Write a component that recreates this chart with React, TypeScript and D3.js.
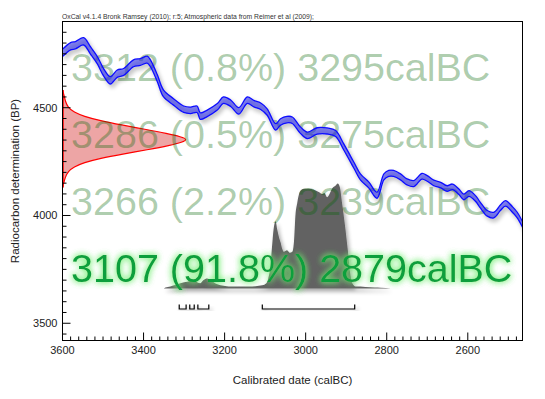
import React from "react";
import * as d3 from "d3";

// ---- data ----
const HEADER = "OxCal v4.1.4 Bronk Ramsey (2010); r:5; Atmospheric data from Reimer et al (2009);";
const X_TITLE = "Calibrated date (calBC)";
const Y_TITLE = "Radiocarbon determination (BP)";
const X_DOMAIN = [3600, 2465];
const Y_DOMAIN = [3420, 4900];
const X_TICK_LABELS = [3600, 3400, 3200, 3000, 2800, 2600];
const Y_TICK_LABELS = [3500, 4000, 4500];

// calibration curve: [calBC, BP, 1-sigma]
const CURVE: [number, number, number][] = [
  [3600, 4754, 17], [3580, 4785, 17], [3568, 4790, 17], [3548, 4808, 17], [3531, 4766, 17],
  [3514, 4720, 17], [3499, 4666, 17], [3482, 4627, 17], [3465, 4658, 17], [3449, 4666, 16],
  [3425, 4706, 16], [3408, 4712, 16], [3391, 4723, 16], [3383, 4706, 16], [3366, 4637, 16],
  [3351, 4567, 16], [3326, 4527, 15], [3301, 4493, 15], [3284, 4488, 15], [3268, 4493, 15],
  [3260, 4461, 15], [3243, 4474, 15], [3218, 4504, 15], [3203, 4535, 15], [3185, 4521, 15],
  [3165, 4485, 15], [3144, 4535, 15], [3128, 4519, 15], [3111, 4507, 15], [3095, 4480, 15],
  [3074, 4411, 15], [3062, 4434, 15], [3046, 4445, 15], [3033, 4442, 15], [3013, 4396, 15],
  [2996, 4372, 15], [2972, 4392, 15], [2947, 4392, 14], [2926, 4380, 14], [2906, 4318, 14],
  [2881, 4233, 14], [2865, 4179, 14], [2844, 4141, 14], [2824, 4094, 14], [2807, 4179, 14],
  [2795, 4195, 14], [2783, 4195, 14], [2766, 4179, 14], [2750, 4156, 14], [2733, 4148, 14],
  [2713, 4182, 13], [2700, 4172, 13], [2684, 4151, 13], [2667, 4141, 13], [2651, 4125, 13],
  [2638, 4133, 13], [2622, 4110, 13], [2610, 4086, 13], [2597, 4102, 13], [2581, 4079, 13],
  [2569, 4048, 13], [2552, 4010, 13], [2536, 4002, 13], [2519, 4037, 13], [2507, 4056, 13],
  [2490, 4028, 13], [2478, 4002, 13], [2460, 3940, 13],
];

// radiocarbon date likelihood: [BP, relative density]
const RDATE: [number, number][] = [
  [4582, 0], [4560, 0.012], [4530, 0.022], [4500, 0.045], [4480, 0.09], [4460, 0.17],
  [4440, 0.3], [4420, 0.47], [4400, 0.66], [4380, 0.84], [4365, 0.95], [4353, 1.0],
  [4340, 0.96], [4325, 0.86], [4305, 0.68], [4285, 0.48], [4265, 0.3], [4245, 0.17],
  [4225, 0.09], [4205, 0.045], [4175, 0.02], [4150, 0.01], [4130, 0],
];

// calibrated probability: [calBC, relative probability]
const POSTERIOR: [number, number][] = [
  [3350, 0], [3346, 0.01], [3334, 0.02], [3320, 0.035], [3309, 0.05], [3300, 0.06],
  [3292, 0.065], [3284, 0.075], [3276, 0.08], [3268, 0.06], [3260, 0.05], [3252, 0.08],
  [3243, 0.095], [3235, 0.08], [3227, 0.06], [3218, 0.04], [3210, 0.03], [3195, 0.022],
  [3185, 0.02], [3170, 0.02], [3161, 0.02], [3140, 0.02], [3124, 0.022], [3107, 0.03],
  [3097, 0.05], [3092, 0.1], [3087, 0.21], [3083, 0.4], [3079, 0.57], [3074, 0.64],
  [3070, 0.56], [3066, 0.49], [3062, 0.44], [3058, 0.38], [3054, 0.35], [3046, 0.365],
  [3039, 0.34], [3033, 0.35], [3029, 0.44], [3025, 0.71], [3021, 0.81], [3017, 0.89],
  [3013, 0.93], [3005, 0.95], [2992, 0.95], [2980, 0.94], [2968, 0.92], [2959, 0.9],
  [2954, 0.91], [2947, 0.87], [2940, 0.91], [2935, 0.95], [2926, 0.98], [2921, 1.0],
  [2916, 0.97], [2910, 0.81], [2902, 0.57], [2896, 0.365], [2891, 0.17], [2885, 0.05],
  [2877, 0.02], [2865, 0.018], [2852, 0.015], [2830, 0.01], [2815, 0.008], [2790, 0],
];

// 95.4% ranges: [from, to, percent]
const RANGES: [number, number, number][] = [
  [3312, 3295, 0.8],
  [3286, 3275, 0.5],
  [3266, 3239, 2.2],
  [3107, 2879, 91.8],
];

const FONT = "'Liberation Sans', Arial, Helvetica, sans-serif";

export default function App() {
  const left = 62.5, right = 522.5, top = 21.5, bottom = 340.5;
  const x = d3.scaleLinear().domain(X_DOMAIN).range([left, right]);
  const y = d3.scaleLinear().domain(Y_DOMAIN).range([bottom, top]);

  const band = d3.area<[number, number, number]>()
    .x(d => x(d[0])).y0(d => y(d[1] - d[2])).y1(d => y(d[1] + d[2]))
    .curve(d3.curveCatmullRom);
  const upper = d3.line<[number, number, number]>()
    .x(d => x(d[0])).y(d => y(d[1] + d[2])).curve(d3.curveCatmullRom);
  const lower = d3.line<[number, number, number]>()
    .x(d => x(d[0])).y(d => y(d[1] - d[2])).curve(d3.curveCatmullRom);

  const rAmp = 125;
  const rScale = d3.scaleLinear().domain([0, 1]).range([left, left + rAmp]);
  const rArea = d3.area<[number, number]>()
    .y(d => y(d[0])).x0(left).x1(d => rScale(d[1])).curve(d3.curveBasis);
  const rLine = d3.line<[number, number]>()
    .y(d => y(d[0])).x(d => rScale(d[1])).curve(d3.curveBasis);

  const postBase = 288.5;
  const pScale = d3.scaleLinear().domain([0, 1]).range([postBase, postBase - 105]);
  const pArea = d3.area<[number, number]>()
    .x(d => x(d[0])).y0(postBase).y1(d => pScale(d[1])).curve(d3.curveMonotoneX);

  const xTicks = d3.range(X_DOMAIN[0], X_DOMAIN[1], -20);
  const yTicks = d3.range(3450, Y_DOMAIN[1] + 1, 50);

  const bracketY = 309;

  const fmt = (r: [number, number, number]) => `${r[0]} (${r[2]}%) ${r[1]}calBC`;
  const textBaselines = [81, 148, 215, 282];

  return (
    <svg width={545} height={399} style={{ position: "absolute", left: 0, top: 0, background: "#fff" }}
      fontFamily={FONT}>
      <defs>
        <clipPath id="plot">
          <rect x={left} y={top} width={right - left} height={bottom - top} />
        </clipPath>
        <filter id="shadow" x="-10%" y="-20%" width="130%" height="150%">
          <feGaussianBlur in="SourceAlpha" stdDeviation="2" result="b" />
          <feOffset in="b" dx="2" dy="3" result="o" />
          <feComponentTransfer in="o" result="s">
            <feFuncA type="linear" slope="0.35" />
          </feComponentTransfer>
          <feMerge>
            <feMergeNode in="s" />
            <feMergeNode in="SourceGraphic" />
          </feMerge>
        </filter>
        <filter id="glow" x="-5%" y="-40%" width="110%" height="180%">
          <feGaussianBlur in="SourceAlpha" stdDeviation="3" result="b" />
          <feFlood floodColor="#70ee70" floodOpacity="0.85" />
          <feComposite in2="b" operator="in" result="g" />
          <feMerge>
            <feMergeNode in="g" />
            <feMergeNode in="g" />
            <feMergeNode in="SourceGraphic" />
          </feMerge>
        </filter>
      </defs>

      <text x={62} y={19} fontSize={6.7} fill="#333" textLength={252} lengthAdjust="spacingAndGlyphs">{HEADER}</text>

      <path d={rArea(RDATE) || ""} fill="#dc4c4c" fillOpacity={0.5} />
      <path d={rLine(RDATE) || ""} fill="none" stroke="#ff0000" strokeWidth={1.2} />
      <line x1={left + 0.5} x2={left + 0.5} y1={y(RDATE[0][0])} y2={y(RDATE[RDATE.length - 1][0])} stroke="#ff0000" strokeWidth={1.5} />

      <g filter="url(#shadow)">
        <path d={pArea(POSTERIOR) || ""} fill="#626262" />
      </g>

      <g filter="url(#shadow)">
        {RANGES.map((r, i) => (
          <path key={i}
            d={`M${x(r[0])},${bracketY - 4.5}V${bracketY}H${x(r[1])}V${bracketY - 4.5}`}
            fill="none" stroke="#000" strokeWidth={1.2} />
        ))}
      </g>

      {RANGES.slice(0, 3).map((r, i) => (
        <text key={i} x={71} y={textBaselines[i]} fontSize={39.5} fill="#006400" fillOpacity={0.33}>{fmt(r)}</text>
      ))}

      <g clipPath="url(#plot)">
        <g filter="url(#shadow)">
          <path d={band(CURVE) || ""} fill="#2020e0" fillOpacity={0.55} />
          <path d={upper(CURVE) || ""} fill="none" stroke="#1010ff" strokeWidth={1.3} />
          <path d={lower(CURVE) || ""} fill="none" stroke="#1010ff" strokeWidth={1.3} />
        </g>
      </g>

      <text x={71} y={textBaselines[3]} fontSize={39.5} fill="#0b9f3c" filter="url(#glow)">{fmt(RANGES[3])}</text>

      <rect x={left} y={top} width={right - left} height={bottom - top} fill="none" stroke="#000" strokeWidth={1} />

      {xTicks.map(t => {
        const major = t % 200 === 0;
        return <line key={t} x1={x(t)} x2={x(t)} y1={bottom} y2={bottom - (major ? 8 : 4)} stroke="#000" strokeWidth={1} />;
      })}
      {X_TICK_LABELS.map(t => (
        <text key={t} x={x(t)} y={354} fontSize={11} textAnchor="middle" fill="#222">{t}</text>
      ))}

      {yTicks.map(t => {
        const major = t % 500 === 0;
        return <line key={t} x1={left} x2={left + (major ? 8 : 4)} y1={y(t)} y2={y(t)} stroke="#000" strokeWidth={1} />;
      })}
      {Y_TICK_LABELS.map(t => (
        <text key={t} x={57.5} y={y(t) + 4} fontSize={11} textAnchor="end" fill="#222">{t}</text>
      ))}

      <text x={(left + right) / 2} y={384} fontSize={11.5} textAnchor="middle" fill="#222">{X_TITLE}</text>
      <text transform={`translate(19,${(top + bottom) / 2}) rotate(-90)`} fontSize={11.5} textAnchor="middle" fill="#222">{Y_TITLE}</text>
    </svg>
  );
}
